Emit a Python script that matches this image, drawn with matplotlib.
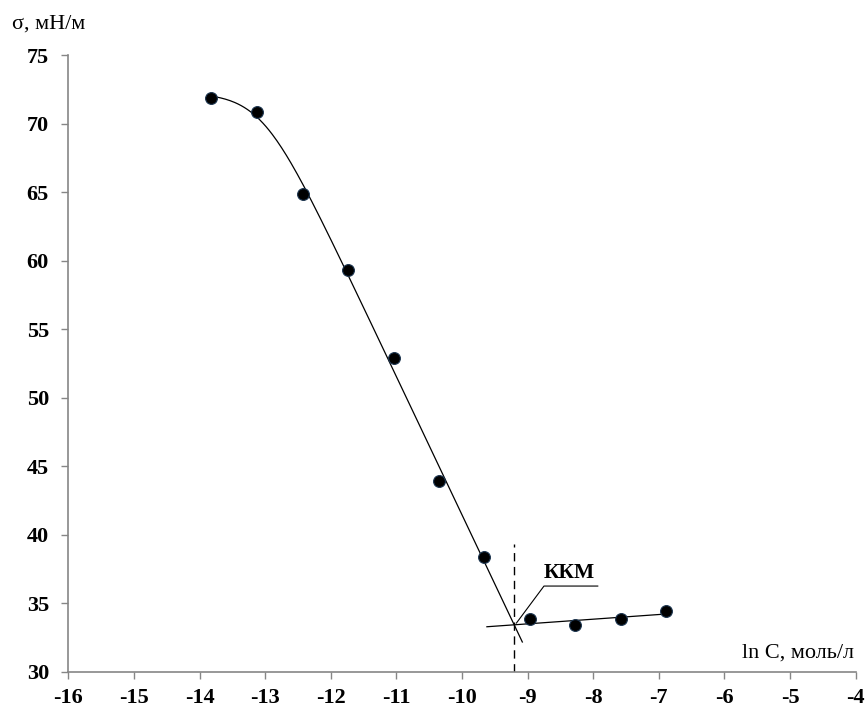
import numpy as np
import matplotlib.pyplot as plt

# ln C, моль/л  and surface tension, мН/м
ln_c = [-13.82, -13.12, -12.43, -11.74, -11.04, -10.35, -9.66, -8.97, -8.27, -7.58, -6.89]
sigma = [71.85, 70.85, 64.85, 59.3, 52.9, 43.9, 38.35, 33.85, 33.4, 33.85, 34.4]

# point where the two branches meet (ККМ)
cmc_x = -9.2
cmc_y = 33.35

# x range of each trend line
steep_range = [-13.82, -9.08]
flat_range = [-9.62, -6.89]

x_ticks = list(range(-16, -3))
y_ticks = list(range(30, 80, 5))

plt.rcParams['font.family'] = ['Liberation Serif', 'DejaVu Serif']
plt.rcParams['axes.unicode_minus'] = False


def softplus(x, x0, k):
    return np.log1p(np.exp(k * (x - x0))) / k


# Szyszkowski-type fit: sigma = a - b * ln(1 + exp(k (lnC - x0))) / k
n_steep = 7
xs_fit = np.array(ln_c[:n_steep] + [cmc_x])
ys_fit = np.array(sigma[:n_steep] + [cmc_y])
best = None
for x0 in np.linspace(-14.5, -11.0, 141):
    for k in np.linspace(0.5, 6.0, 111):
        A = np.column_stack([np.ones_like(xs_fit), -softplus(xs_fit, x0, k)])
        coef, *_ = np.linalg.lstsq(A, ys_fit, rcond=None)
        err = np.sum((A @ coef - ys_fit) ** 2)
        if best is None or err < best[0]:
            best = (err, x0, k, coef)
_, x0, k, (a, b) = best

fig = plt.figure(figsize=(8.66, 7.09), dpi=100)
ax = fig.add_axes([0.0789, 0.0526, 0.9091, 0.8698])

xs = np.linspace(steep_range[0], steep_range[1], 200)
ax.plot(xs, a - b * softplus(xs, x0, k), color='black', lw=0.9, zorder=2)

# flat branch: linear trend after the ККМ
p_flat = np.polyfit(ln_c[n_steep:] + [cmc_x], sigma[n_steep:] + [cmc_y], 1)
xf = np.array(flat_range)
ax.plot(xf, np.polyval(p_flat, xf), color='black', lw=0.9, zorder=2)

ax.plot(ln_c, sigma, 'o', color='black', markersize=8.5,
        markeredgecolor='#1c3550', markeredgewidth=0.8, zorder=3)

# dashed line down to the axis
ax.plot([cmc_x, cmc_x], [30, 39.35], color='black', lw=1.0, ls=(0, (6, 4)), zorder=1)

# leader line and label
ax.plot([cmc_x + 0.03, -8.75, -7.93], [cmc_y + 0.2, 36.25, 36.25], color='black', lw=0.8)
ax.text(-8.76, 36.45, 'ККМ', fontsize=15.5, fontweight='bold', ha='left', va='bottom')

ax.set_xlim(-16, -4)
ax.set_ylim(30, 75)
ax.set_xticks(x_ticks)
ax.set_yticks(y_ticks)
for lbl in ax.get_xticklabels() + ax.get_yticklabels():
    lbl.set_fontweight('bold')
ax.tick_params(labelsize=16, length=5, width=1, color='#868686')
ax.tick_params(axis='x', pad=7)
ax.tick_params(axis='y', pad=9)

for side in ['top', 'right']:
    ax.spines[side].set_visible(False)
for side in ['left', 'bottom']:
    ax.spines[side].set_color('#868686')
    ax.spines[side].set_linewidth(1.2)

fig.text(0.014, 0.966, 'σ, мН/м', fontsize=16, ha='left', va='center')
fig.text(0.986, 0.079, 'ln C, моль/л', fontsize=16, ha='right', va='center')

fig.savefig('out.png', dpi=100)
